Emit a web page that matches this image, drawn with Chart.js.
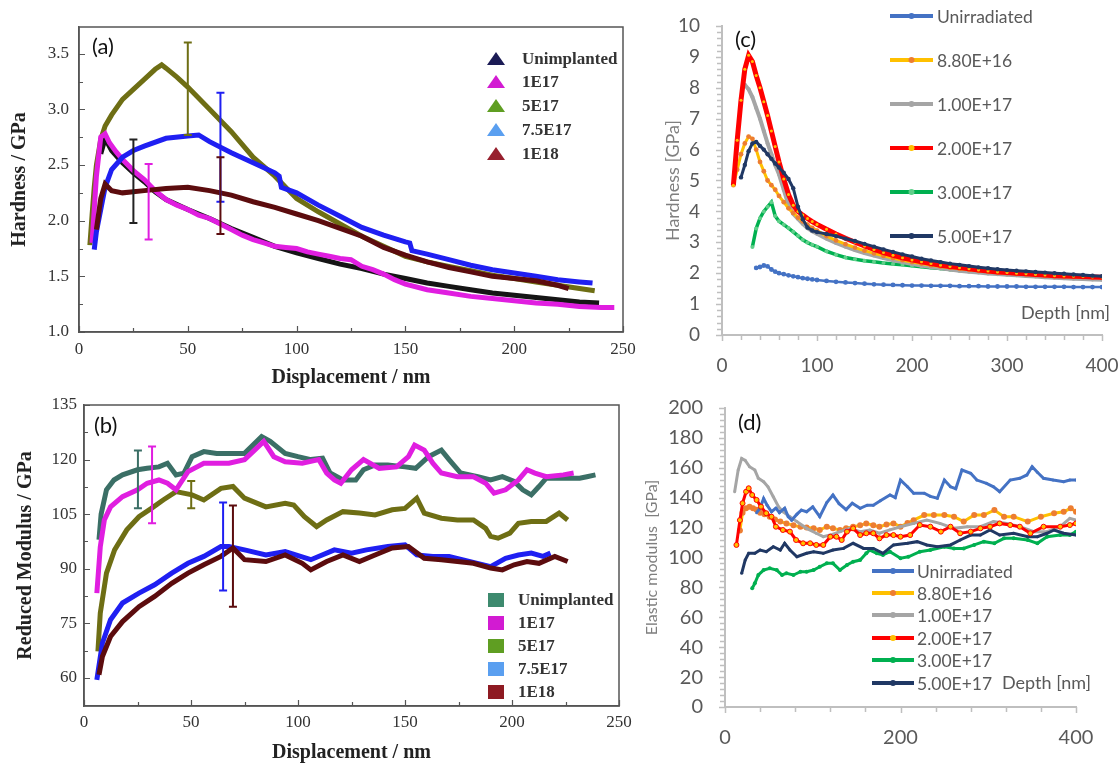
<!DOCTYPE html>
<html lang="en">
<head>
<meta charset="utf-8">
<title>Hardness and modulus vs depth</title>
<script src="https://cdn.jsdelivr.net/npm/chart.js@4.4.1/dist/chart.umd.min.js"></script>
<style>
  html, body { margin: 0; padding: 0; background: #fff; }
  #page { position: relative; width: 1120px; height: 768px; overflow: hidden; background: #fff; }
  #page canvas { position: absolute; }
</style>
</head>
<body>
<div id="page">
  <canvas id="chartA" width="640" height="390" style="left:0;top:0"></canvas>
  <canvas id="chartB" width="640" height="378" style="left:0;top:390px"></canvas>
  <canvas id="chartC" width="480" height="390" style="left:640px;top:0"></canvas>
  <canvas id="chartD" width="480" height="378" style="left:640px;top:390px"></canvas>
</div>
<script>
/* ---------- (a) hardness vs displacement ---------- */
const seriesAB = ['Unimplanted', '1E17', '5E17', '7.5E17', '1E18'];
const ticksAB_x = [0, 50, 100, 150, 200, 250];
const ticksA_y = [1.0, 1.5, 2.0, 2.5, 3.0, 3.5];

const dispA_unimp = [10, 12, 15, 20, 25, 30, 35, 40, 50, 60, 70, 80, 90, 100, 110, 120, 130, 140, 150, 160, 170, 180, 190, 200, 210, 220, 230, 239];
const hardA_unimp = [2.6, 2.74, 2.63, 2.52, 2.43, 2.35, 2.26, 2.19, 2.1, 2.02, 1.93, 1.85, 1.77, 1.71, 1.66, 1.61, 1.57, 1.52, 1.48, 1.44, 1.41, 1.38, 1.35, 1.33, 1.31, 1.29, 1.27, 1.26];

const dispA_1e17 = [6, 8, 10, 12, 14, 17, 20, 25, 30, 35, 40, 45, 50, 55, 60, 65, 70, 75, 80, 85, 90, 95, 100, 105, 110, 115, 120, 125, 130, 135, 140, 145, 150, 160, 170, 180, 190, 200, 210, 220, 230, 240, 246];
const hardA_1e17 = [1.8, 2.4, 2.75, 2.78, 2.7, 2.62, 2.55, 2.45, 2.37, 2.27, 2.19, 2.14, 2.10, 2.05, 2.02, 1.97, 1.92, 1.87, 1.83, 1.80, 1.77, 1.76, 1.75, 1.72, 1.70, 1.68, 1.66, 1.65, 1.59, 1.56, 1.52, 1.47, 1.43, 1.38, 1.35, 1.32, 1.30, 1.28, 1.26, 1.25, 1.23, 1.22, 1.22];

const dispA_5e17 = [5, 6, 7, 8, 10, 12, 15, 20, 25, 30, 35, 38, 40, 45, 50, 60, 70, 80, 90, 100, 110, 120, 130, 140, 150, 160, 170, 180, 190, 200, 210, 220, 230, 237];
const hardA_5e17 = [1.78, 2.05, 2.3, 2.5, 2.73, 2.85, 2.95, 3.09, 3.18, 3.27, 3.36, 3.40, 3.37, 3.29, 3.2, 3.0, 2.8, 2.57, 2.4, 2.2, 2.08, 1.97, 1.86, 1.77, 1.68, 1.63, 1.59, 1.55, 1.51, 1.48, 1.45, 1.42, 1.39, 1.37];

const dispA_75e17 = [7, 8, 10, 12, 15, 20, 25, 30, 40, 50, 55, 60, 70, 80, 90, 92, 93, 100, 110, 120, 130, 140, 150, 152, 153, 160, 170, 180, 190, 200, 210, 220, 230, 236];
const hardA_75e17 = [1.74, 1.9, 2.1, 2.3, 2.46, 2.57, 2.63, 2.67, 2.74, 2.76, 2.77, 2.71, 2.61, 2.52, 2.43, 2.40, 2.30, 2.25, 2.14, 2.04, 1.94, 1.87, 1.81, 1.80, 1.73, 1.70, 1.65, 1.60, 1.56, 1.53, 1.50, 1.47, 1.45, 1.44];

const dispA_1e18 = [8, 10, 12, 15, 20, 30, 40, 50, 60, 65, 70, 80, 90, 100, 110, 120, 130, 140, 150, 160, 170, 180, 190, 200, 210, 220, 225];
const hardA_1e18 = [1.92, 2.2, 2.33, 2.27, 2.25, 2.27, 2.29, 2.30, 2.27, 2.25, 2.23, 2.17, 2.12, 2.06, 2.0, 1.93, 1.86, 1.76, 1.69, 1.63, 1.58, 1.54, 1.50, 1.48, 1.46, 1.42, 1.39];

// error bars: position, lower and upper end
const errA_x = [25, 32, 50, 65, 65];
const errA_lo = [1.98, 1.83, 2.77, 2.17, 1.88];
const errA_hi = [2.73, 2.51, 3.6, 3.15, 2.57];

/* ---------- (b) reduced modulus vs displacement ---------- */
const ticksB_y = [60, 75, 90, 105, 120, 135];

const dispB_unimp = [7, 8, 10.5, 14, 18, 25, 29.5, 35, 39, 43, 46.7, 50.5, 56, 62, 75, 83, 87, 94, 100, 106, 111.5, 115, 121, 127, 130.6, 136, 142, 150, 155, 161, 167, 170.6, 176, 184, 190, 195.5, 201, 205, 209, 212.6, 216, 224, 231.6, 235, 239];
const modB_unimp = [98, 105, 111.7, 114.4, 115.8, 117.2, 117.6, 118, 119, 115.8, 116.3, 120.8, 122.2, 121.7, 121.7, 126.3, 125, 121.7, 120.8, 120, 120.4, 116.3, 114.4, 114.4, 117.2, 118.5, 118.5, 118, 117.6, 120.8, 122.6, 120, 116.3, 115.3, 114.4, 115.3, 114, 111.7, 110.3, 112.6, 114.9, 114.9, 114.9, 115.3, 115.8];

const dispB_1e17 = [6, 7.6, 9.5, 12.4, 18, 25, 29.5, 35, 39, 43, 48.6, 56, 67.7, 75, 79, 84, 88.7, 94, 102, 109.7, 113.4, 117, 120, 125, 130.6, 138, 146, 151.6, 154.5, 159, 163, 167, 174.5, 182, 187.7, 191.6, 197, 203, 207, 210.7, 216, 224, 228.8];
const modB_1e17 = [83.3, 96, 103.4, 107, 109.8, 111.7, 113.5, 114.4, 113.5, 111.7, 116.7, 119, 119, 120, 122.2, 125, 120.8, 119.4, 119, 120, 116.3, 114.4, 113.5, 117.2, 120, 117.6, 118, 120.8, 124, 122.6, 119, 116.3, 115.3, 115.3, 113.5, 110.8, 111.7, 114.4, 117.2, 116.3, 115.3, 115.8, 116.3];

const dispB_5e17 = [6.5, 7.6, 10.5, 14.3, 20, 25.7, 31.5, 37, 43, 50.5, 56, 64, 69.6, 75, 85, 94, 98, 103, 108.7, 113.4, 121, 128.7, 136, 144, 150, 155.5, 159, 167, 174.5, 182, 187.7, 190, 193.5, 199, 203, 209, 216, 222, 226];
const modB_5e17 = [67.3, 77.8, 88.8, 95.2, 100.7, 104.3, 106.6, 108.9, 111.2, 110.3, 108.9, 112.1, 112.6, 109.4, 107, 108, 107.5, 104.3, 101.6, 103.4, 105.7, 105.3, 104.8, 106.2, 106.6, 109.4, 105.3, 103.9, 103.4, 103.4, 101.1, 98.9, 98.4, 99.8, 102.5, 103, 103, 105.3, 103.4];

const dispB_75e17 = [6, 8.6, 12.4, 18, 25.7, 33, 41, 48.6, 56, 64, 67.7, 75, 85, 94, 106, 117, 125, 132, 142, 150, 155.5, 163, 170.6, 180, 190, 197, 203, 209, 214.5, 218];
const modB_75e17 = [59.5, 69.6, 76, 80.6, 83.3, 85.6, 88.8, 91.5, 93.4, 96.1, 96.1, 95.2, 93.8, 94.7, 92.5, 95.2, 94.3, 95.2, 96.1, 96.6, 93.8, 93.4, 93.4, 92, 90.6, 92.9, 93.8, 94.3, 93.4, 94.3];

const dispB_1e18 = [7, 8.6, 12.4, 18, 25.7, 33, 41, 48.6, 56, 64, 69.6, 75, 85, 94, 102, 106, 113.4, 121, 128.7, 136, 144, 151.6, 159, 167, 174.5, 182, 190, 195.5, 201, 207, 212.6, 220, 226];
const modB_1e18 = [60.9, 65.9, 71.4, 75.5, 79.6, 82.4, 86, 88.8, 91.1, 93.4, 95.7, 92.5, 92, 93.8, 91.5, 89.7, 92, 93.8, 92, 93.8, 95.7, 96.1, 92.9, 92.5, 92, 91.5, 90.2, 89.7, 91.1, 92, 91.5, 93.4, 92];

const errB_x = [25.2, 31.8, 50.1, 65, 69.6];
const errB_lo = [106.6, 102.5, 106.6, 84, 79.6];
const errB_hi = [122.5, 123.6, 114.1, 108.2, 107.4];

/* ---------- (c) hardness vs depth, irradiated samples ---------- */
const seriesCD = ['Unirradiated', '8.80E+16', '1.00E+17', '2.00E+17', '3.00E+17', '5.00E+17'];
const ticksC_x = [0, 100, 200, 300, 400];
const ticksC_y = [0, 1, 2, 3, 4, 5, 6, 7, 8, 9, 10];

const depthC = [12, 16, 20, 24, 28, 32, 36, 40, 44, 48, 52, 56, 60, 65, 70, 75, 80, 85, 90, 95, 100,
  110, 120, 130, 140, 150, 160, 170, 180, 190, 200, 210, 220, 230, 240, 250, 260, 270, 280, 290, 300,
  310, 320, 330, 340, 350, 360, 370, 380, 390, 400];
const hardC_unirr = [null, null, null, null, null, null, 2.17, 2.2, 2.25, 2.22, 2.12, 2.05, 2.0, 1.97, 1.93, 1.9, 1.87, 1.84, 1.82, 1.8, 1.78,
  1.75, 1.72, 1.7, 1.68, 1.66, 1.64, 1.63, 1.62, 1.61, 1.6, 1.6, 1.59, 1.59, 1.59, 1.58, 1.58, 1.58, 1.57, 1.57, 1.57,
  1.57, 1.56, 1.56, 1.56, 1.56, 1.56, 1.55, 1.55, 1.55, 1.55];
const hardC_88e16 = [4.85, 5.35, 5.85, 6.2, 6.42, 6.35, 6.0, 5.6, 5.3, 5.0, 4.85, 4.7, 4.5, 4.3, 4.1, 3.95, 3.8, 3.68, 3.57, 3.47, 3.38,
  3.2, 3.06, 2.94, 2.83, 2.73, 2.64, 2.56, 2.49, 2.42, 2.36, 2.31, 2.26, 2.22, 2.18, 2.14, 2.11, 2.08, 2.05, 2.02, 2.0,
  1.98, 1.96, 1.94, 1.92, 1.9, 1.89, 1.88, 1.87, 1.86, 1.85];
const hardC_1e17 = [null, null, null, 8.1, 7.95, 7.7, 7.35, 7.0, 6.6, 6.2, 5.85, 5.5, 5.2, 4.7, 4.2, 3.92, 3.76, 3.6, 3.46, 3.36, 3.28,
  3.12, 2.98, 2.86, 2.75, 2.65, 2.57, 2.49, 2.42, 2.36, 2.3, 2.25, 2.2, 2.16, 2.12, 2.08, 2.05, 2.02, 1.99, 1.97, 1.95,
  1.93, 1.91, 1.89, 1.87, 1.85, 1.84, 1.82, 1.81, 1.8, 1.79];
const hardC_2e17 = [4.85, 6.3, 7.6, 8.6, 9.05, 8.85, 8.4, 8.0, 7.55, 7.1, 6.6, 6.1, 5.6, 5.05, 4.55, 4.2, 4.0, 3.88, 3.77, 3.67, 3.58,
  3.42, 3.27, 3.13, 3.0, 2.88, 2.77, 2.67, 2.58, 2.5, 2.43, 2.37, 2.31, 2.26, 2.22, 2.18, 2.14, 2.1, 2.07, 2.04, 2.02,
  2.0, 1.98, 1.96, 1.94, 1.92, 1.91, 1.9, 1.89, 1.88, 1.87];
const hardC_3e17 = [null, null, null, null, null, 2.85, 3.45, 3.78, 4.0, 4.15, 4.3, 3.85, 3.68, 3.57, 3.46, 3.34, 3.21, 3.08, 2.99, 2.92, 2.86,
  2.71, 2.6, 2.51, 2.45, 2.4, 2.37, 2.33, 2.3, 2.27, 2.24, 2.21, 2.18, 2.15, 2.12, 2.09, 2.07, 2.05, 2.03, 2.01, 1.99,
  1.97, 1.95, 1.93, 1.92, 1.9, 1.89, 1.88, 1.87, 1.86, 1.85];
const hardC_5e17 = [null, null, 5.1, 5.5, 5.95, 6.2, 6.25, 6.12, 6.0, 5.85, 5.7, 5.55, 5.42, 5.25, 5.05, 4.75, 4.15, 3.75, 3.48, 3.38, 3.33,
  3.27, 3.2, 3.12, 3.04, 2.95, 2.86, 2.77, 2.69, 2.61, 2.54, 2.47, 2.41, 2.36, 2.31, 2.27, 2.23, 2.19, 2.16, 2.13, 2.1,
  2.08, 2.06, 2.04, 2.02, 2.0, 1.98, 1.96, 1.94, 1.92, 1.9];

/* ---------- (d) elastic modulus vs depth ---------- */
const ticksD_x = [0, 200, 400];
const ticksD_y = [0, 20, 40, 60, 80, 100, 120, 140, 160, 180, 200];

const depthD_unirr = [36, 40, 44, 48, 53, 58, 62, 68, 72, 76, 82, 87, 93, 100, 108, 116, 123, 130, 138, 145, 154, 162, 169, 177, 188, 194, 200, 208, 215, 227, 234, 242, 250, 257, 263, 270, 280, 287, 298, 306, 313, 325, 336, 344, 350, 356, 363, 374, 386, 393, 400];
const modD_unirr = [130, 133, 139.5, 135, 130.6, 133, 130, 133, 127.3, 125, 129, 131.7, 130.6, 133.9, 127.3, 136.8, 141.8, 136, 132, 136.3, 132.9, 135, 135, 138, 141.8, 140, 151.8, 147.3, 143, 143, 140.9, 139.6, 151.8, 147.3, 146, 158.5, 156.3, 151.8, 149.6, 147.3, 144, 151.8, 153, 155.2, 160.7, 157, 153, 151.8, 150.7, 151.8, 151.8];

const depthD_88e16 = [17, 20, 24, 28, 32, 36, 40, 45, 51, 57, 63, 70, 78, 86, 93, 101, 108, 116, 123, 131, 138, 146, 154, 161, 169, 176, 184, 192, 200, 208, 215, 227, 238, 250, 261, 272, 284, 295, 307, 318, 329, 345, 360, 375, 386, 394, 400];
const modD_88e16 = [118, 130, 133, 134, 133, 132, 130, 129, 127.3, 125.5, 124, 122.8, 121.5, 120.6, 120, 119.5, 118.4, 120.6, 119.5, 118.4, 119.5, 120.6, 121.5, 122.8, 121.5, 120.6, 122, 122.8, 120.6, 123, 125, 128.4, 128.4, 128.4, 127.3, 124, 128.4, 128.4, 131.7, 127.3, 127.3, 124, 127.3, 129.6, 130.6, 132.9, 130.6];

const depthD_1e17 = [11, 15, 19, 23, 28, 34, 38, 44, 49, 55, 61, 66, 74, 82, 93, 104, 112, 120, 131, 142, 154, 165, 176, 188, 200, 215, 230, 245, 261, 276, 291, 306, 321, 336, 352, 367, 382, 393, 400];
const modD_1e17 = [144, 158.5, 166.3, 165, 160.7, 158.5, 153, 150.7, 147.3, 140.6, 134, 130.6, 127.3, 124, 119.5, 116.2, 113.9, 115, 117.3, 119.5, 117.3, 118.4, 116.2, 118.5, 120.6, 122.8, 125, 122.8, 119.5, 120.6, 120.6, 124, 122.8, 120.6, 117.3, 117.3, 120.6, 126.2, 125];

const depthD_2e17 = [13, 17, 20, 24, 27, 31, 36, 41, 47, 53, 58, 66, 74, 81, 89, 97, 104, 112, 120, 127, 133, 139, 146, 154, 161, 169, 176, 184, 192, 200, 211, 222, 234, 246, 257, 268, 280, 291, 302, 313, 325, 336, 348, 363, 382, 393, 400];
const modD_2e17 = [108.4, 125, 136.3, 144, 146.3, 141.8, 138.5, 134, 129.6, 127.3, 120.6, 118.4, 117.3, 111.7, 109.5, 109.5, 108.4, 108.4, 113.9, 113.9, 111.7, 117.3, 119.5, 115, 116.2, 116.2, 112.8, 115, 115, 113.9, 115, 121.7, 120.6, 117.3, 120.6, 116.2, 117.3, 119.5, 120.6, 122.8, 121.7, 120.6, 116.2, 120.6, 120.6, 121.7, 122.8];

const depthD_3e17 = [31, 34, 38, 44, 51, 59, 65, 70, 78, 86, 93, 101, 108, 116, 123, 131, 139, 146, 154, 161, 165, 173, 180, 188, 200, 209, 222, 234, 250, 261, 272, 284, 295, 307, 318, 329, 345, 356, 367, 382, 393, 400];
const modD_3e17 = [79.4, 82.7, 88.3, 91.6, 92.8, 91.6, 88.3, 89.4, 88.3, 90.5, 90.5, 91.6, 93.8, 96.1, 96.1, 91.6, 95, 97.2, 98.3, 102.8, 105, 102.8, 101.7, 103.9, 99.5, 100.5, 103.9, 105, 107.2, 106.1, 106.1, 108.4, 110.6, 109.5, 112.8, 112.8, 111.7, 109.5, 113.9, 115, 115, 117.3];

const depthD_5e17 = [19, 23, 27, 34, 40, 47, 55, 63, 68, 74, 82, 93, 101, 112, 123, 135, 146, 158, 169, 180, 192, 208, 219, 230, 242, 257, 268, 280, 291, 302, 313, 329, 345, 356, 367, 375, 386, 400];
const modD_5e17 = [89.4, 98.3, 102.8, 102.8, 105, 103.9, 107.2, 105, 109.5, 105, 100.5, 102.8, 103.9, 102.8, 105, 106.1, 109.5, 106.1, 106.1, 102.8, 108.4, 109.5, 110.6, 108.4, 107.2, 108.4, 111.7, 115, 115, 118.4, 115, 116.2, 113.9, 113.9, 116.2, 118.4, 116.2, 115];

/* ---------- shared helpers ---------- */
const SERIF = '"Liberation Serif", "Times New Roman", serif';
const SANS = 'Lato, "Open Sans", sans-serif';

const pts = (xs, ys) => xs.map((x, i) => ({ x, y: ys[i] })).filter(p => p.y !== null);
const fixTicks = list => scale => { scale.ticks = list.map(value => ({ value })); };

// tick marks along the bottom and left axes (inward for a/b, outward for c/d)
const tickMarks = {
  id: 'tickMarks',
  afterDraw(chart, args, o) {
    const { ctx, chartArea: a } = chart;
    const x = chart.scales.x, y = chart.scales.y;
    const dir = o.inward ? -1 : 1;
    const isMajor = (v, step) => Math.abs(v / step - Math.round(v / step)) < 1e-6;
    ctx.save();
    ctx.strokeStyle = o.color;
    ctx.lineWidth = o.width;
    ctx.beginPath();
    for (let v = o.xFrom; v <= x.max + 1e-6; v += o.xMinor) {
      const px = Math.round(x.getPixelForValue(v)) + 0.5;
      const len = isMajor(v - o.xFrom, o.xMajor) ? o.majorLen : o.minorLen;
      ctx.moveTo(px, a.bottom);
      ctx.lineTo(px, a.bottom + dir * len);
    }
    for (let v = o.yFrom; v <= y.max + 1e-6; v += o.yMinor) {
      const py = Math.round(y.getPixelForValue(v)) + 0.5;
      const len = isMajor(v - o.yFrom, o.yMajor) ? o.majorLen : o.minorLen;
      ctx.moveTo(a.left, py);
      ctx.lineTo(a.left - dir * len, py);
    }
    ctx.stroke();
    ctx.restore();
  }
};

// closed frame round the plot area
const frameBox = {
  id: 'frameBox',
  afterDraw(chart, args, o) {
    if (!o.color) return;
    const { ctx, chartArea: a } = chart;
    ctx.save();
    ctx.strokeStyle = o.color;
    ctx.lineWidth = o.width;
    ctx.strokeRect(a.left, a.top, a.right - a.left, a.bottom - a.top);
    ctx.restore();
  }
};

// vertical error bars with caps
const errorBars = {
  id: 'errorBars',
  afterDatasetsDraw(chart, args, o) {
    if (!o.xs) return;
    const { ctx } = chart;
    const x = chart.scales.x, y = chart.scales.y;
    ctx.save();
    ctx.lineWidth = 2;
    o.xs.forEach((xv, i) => {
      const px = x.getPixelForValue(xv);
      const top = y.getPixelForValue(o.hi[i]);
      const bot = y.getPixelForValue(o.lo[i]);
      ctx.strokeStyle = o.colors[i];
      ctx.beginPath();
      ctx.moveTo(px, top); ctx.lineTo(px, bot);
      ctx.moveTo(px - o.cap, top); ctx.lineTo(px + o.cap, top);
      ctx.moveTo(px - o.cap, bot); ctx.lineTo(px + o.cap, bot);
      ctx.stroke();
    });
    ctx.restore();
  }
};

// hand-placed legend: triangles, squares or line+marker keys
const keyBox = {
  id: 'keyBox',
  afterDraw(chart, args, o) {
    if (!o.labels) return;
    const { ctx } = chart;
    ctx.save();
    ctx.font = o.font;
    ctx.textBaseline = 'middle';
    o.labels.forEach((label, i) => {
      const cy = o.rows[i];
      const col = o.colors[i];
      if (o.symbol === 'triangle') {
        ctx.fillStyle = col;
        ctx.beginPath();
        ctx.moveTo(o.keyX, cy - 7);
        ctx.lineTo(o.keyX + 9, cy + 6);
        ctx.lineTo(o.keyX - 9, cy + 6);
        ctx.closePath();
        ctx.fill();
      } else if (o.symbol === 'square') {
        ctx.fillStyle = col;
        ctx.fillRect(o.keyX - 8, cy - 7, 16, 14);
      } else {
        ctx.strokeStyle = col;
        ctx.lineWidth = 4;
        ctx.beginPath();
        ctx.moveTo(o.keyX, cy);
        ctx.lineTo(o.keyX + o.keyLen, cy);
        ctx.stroke();
        ctx.fillStyle = o.dots[i];
        ctx.beginPath();
        ctx.arc(o.keyX + o.keyLen / 2, cy, 3, 0, Math.PI * 2);
        ctx.fill();
      }
      ctx.fillStyle = o.textColor;
      ctx.fillText(label, o.textX, cy + 1);
    });
    ctx.restore();
  }
};

// free text: panel letters and the in-plot depth caption
const notes = {
  id: 'notes',
  afterDraw(chart, args, o) {
    if (!o.items) return;
    const { ctx } = chart;
    ctx.save();
    ctx.textBaseline = 'middle';
    o.items.forEach(t => {
      ctx.font = t.font;
      ctx.fillStyle = t.color;
      ctx.textAlign = t.align || 'left';
      ctx.fillText(t.text, t.x, t.y);
    });
    ctx.restore();
  }
};

Chart.register(tickMarks, frameBox, errorBars, keyBox, notes);

// label gap comes from tickLength (grid hidden), so it does not feed the layout padding
function xScale(cfg) {
  return {
    type: 'linear', min: cfg.min, max: cfg.max,
    afterBuildTicks: fixTicks(cfg.ticks),
    afterFit: s => { s.height = cfg.height; },
    grid: { display: false, drawTicks: true, tickLength: cfg.labelGap },
    border: { display: true, color: cfg.axisColor, width: cfg.axisWidth },
    ticks: { color: cfg.labelColor, font: cfg.labelFont, padding: 0, maxRotation: 0, autoSkip: false },
    title: cfg.title ? { display: true, text: cfg.title, color: cfg.titleColor, font: cfg.titleFont, padding: { top: 0, bottom: cfg.titlePad } } : { display: false }
  };
}

function yScale(cfg) {
  return {
    type: 'linear', min: cfg.min, max: cfg.max,
    afterBuildTicks: fixTicks(cfg.ticks),
    afterFit: s => { s.width = cfg.width; },
    grid: { display: false, drawTicks: true, tickLength: cfg.labelGap },
    border: { display: true, color: cfg.axisColor, width: cfg.axisWidth },
    ticks: { color: cfg.labelColor, font: cfg.labelFont, padding: 0, autoSkip: false, callback: cfg.format || (v => String(v)) },
    title: { display: true, text: cfg.title, color: cfg.titleColor, font: cfg.titleFont, padding: { top: cfg.titlePad, bottom: 0 } }
  };
}

function baseOptions(padding, scales, plugins) {
  return {
    responsive: false, animation: false, devicePixelRatio: 1,
    layout: { padding },
    scales,
    plugins: Object.assign({ legend: { display: false }, tooltip: { enabled: false } }, plugins)
  };
}

/* ---------- panel (a) ---------- */
const lineColorsA = ['#151515', '#e01ee0', '#6e6e14', '#1f1ff2', '#5c0c0e'];
const keyColorsA = ['#1b1b55', '#d21bd2', '#5f9e22', '#5a9ff0', '#97202e'];
const thickLine = (label, data, color) => ({ label, data, borderColor: color, backgroundColor: color, borderWidth: 5, pointRadius: 0, tension: 0 });

new Chart(document.getElementById('chartA'), {
  type: 'line',
  data: {
    datasets: [
      thickLine(seriesAB[4], pts(dispA_1e18, hardA_1e18), lineColorsA[4]),
      thickLine(seriesAB[3], pts(dispA_75e17, hardA_75e17), lineColorsA[3]),
      thickLine(seriesAB[1], pts(dispA_1e17, hardA_1e17), lineColorsA[1]),
      thickLine(seriesAB[0], pts(dispA_unimp, hardA_unimp), lineColorsA[0]),
      thickLine(seriesAB[2], pts(dispA_5e17, hardA_5e17), lineColorsA[2])
    ]
  },
  options: baseOptions({ left: 0, right: 17, top: 27, bottom: 0 }, {
    x: xScale({ min: 0, max: 250, ticks: ticksAB_x, height: 58, axisColor: '#555', axisWidth: 1.5,
      labelColor: '#333', labelFont: { family: SERIF, size: 17 }, labelGap: 7,
      title: 'Displacement / nm', titleColor: '#222', titleFont: { family: SERIF, size: 20, weight: 'bold' }, titlePad: 0 }),
    y: yScale({ min: 1.0, max: 3.74, ticks: ticksA_y, width: 79, axisColor: '#555', axisWidth: 1.5,
      labelColor: '#333', labelFont: { family: SERIF, size: 17 }, labelGap: 10, format: v => v.toFixed(1),
      title: 'Hardness / GPa', titleColor: '#222', titleFont: { family: SERIF, size: 20, weight: 'bold' }, titlePad: 8 })
  }, {
    tickMarks: { inward: true, color: '#555', width: 1.2, xFrom: 0, xMinor: 25, xMajor: 50, yFrom: 1.0, yMinor: 0.25, yMajor: 0.5, majorLen: 6, minorLen: 4 },
    frameBox: { color: '#555', width: 1.5 },
    errorBars: { xs: errA_x, lo: errA_lo, hi: errA_hi, colors: ['#222', lineColorsA[1], lineColorsA[2], lineColorsA[3], lineColorsA[4]], cap: 4 },
    keyBox: { labels: seriesAB, colors: keyColorsA, symbol: 'triangle', keyX: 496, textX: 522, rows: [59, 82, 106, 130, 154],
      font: 'bold 17px ' + SERIF, textColor: '#333' },
    notes: { items: [{ text: '(a)', x: 92, y: 47, font: '22px ' + SANS, color: '#111' }] }
  })
});

/* ---------- panel (b) ---------- */
const lineColorsB = ['#3b6f66', '#e01ee0', '#6e6e14', '#1f1ff2', '#5c0c0e'];
const keyColorsB = ['#3d8a6e', '#d21bd2', '#5f9e22', '#5a9ff0', '#8e1a22'];

new Chart(document.getElementById('chartB'), {
  type: 'line',
  data: {
    datasets: [
      thickLine(seriesAB[4], pts(dispB_1e18, modB_1e18), lineColorsB[4]),
      thickLine(seriesAB[3], pts(dispB_75e17, modB_75e17), lineColorsB[3]),
      thickLine(seriesAB[1], pts(dispB_1e17, modB_1e17), lineColorsB[1]),
      thickLine(seriesAB[0], pts(dispB_unimp, modB_unimp), lineColorsB[0]),
      thickLine(seriesAB[2], pts(dispB_5e17, modB_5e17), lineColorsB[2])
    ]
  },
  options: baseOptions({ left: 0, right: 21, top: 15, bottom: 0 }, {
    x: xScale({ min: 0, max: 250, ticks: ticksAB_x, height: 62, axisColor: '#555', axisWidth: 1.5,
      labelColor: '#333', labelFont: { family: SERIF, size: 17 }, labelGap: 6,
      title: 'Displacement / nm', titleColor: '#222', titleFont: { family: SERIF, size: 20, weight: 'bold' }, titlePad: 3 }),
    y: yScale({ min: 52.3, max: 135, ticks: ticksB_y, width: 84, axisColor: '#555', axisWidth: 1.5,
      labelColor: '#333', labelFont: { family: SERIF, size: 17 }, labelGap: 7,
      title: 'Reduced Modulus / GPa', titleColor: '#222', titleFont: { family: SERIF, size: 20, weight: 'bold' }, titlePad: 14 })
  }, {
    tickMarks: { inward: true, color: '#555', width: 1.2, xFrom: 0, xMinor: 25, xMajor: 50, yFrom: 60, yMinor: 7.5, yMajor: 15, majorLen: 6, minorLen: 4 },
    frameBox: { color: '#555', width: 1.5 },
    errorBars: { xs: errB_x, lo: errB_lo, hi: errB_hi, colors: lineColorsB, cap: 4 },
    keyBox: { labels: seriesAB, colors: keyColorsB, symbol: 'square', keyX: 496, textX: 518, rows: [210, 233, 256, 279, 302],
      font: 'bold 17px ' + SERIF, textColor: '#333' },
    notes: { items: [{ text: '(b)', x: 94, y: 36, font: '22px ' + SANS, color: '#111' }] }
  })
});

/* ---------- panel (c) ---------- */
const styleC = [
  { line: '#4472c4', dot: '#4472c4', width: 2.5, r: 2.4, order: 6 },
  { line: '#ffc000', dot: '#ed7d31', width: 3, r: 2.4, order: 3 },
  { line: '#a5a5a5', dot: '#a5a5a5', width: 4, r: 2, order: 4 },
  { line: '#ff0000', dot: '#ffc000', width: 5, r: 1.5, order: 2 },
  { line: '#00b050', dot: '#5fd08a', width: 3.5, r: 2, order: 5 },
  { line: '#203864', dot: '#203864', width: 3, r: 2.2, order: 1 }
];
const valuesC = [hardC_unirr, hardC_88e16, hardC_1e17, hardC_2e17, hardC_3e17, hardC_5e17];

const markedLine = (label, data, s) => ({
  label, data, order: s.order,
  borderColor: s.line, borderWidth: s.width, tension: 0,
  pointRadius: s.r, pointBackgroundColor: s.dot, pointBorderColor: s.ring || s.dot, pointBorderWidth: s.ring ? 1 : 0
});

new Chart(document.getElementById('chartC'), {
  type: 'line',
  data: { datasets: valuesC.map((vals, i) => markedLine(seriesCD[i], pts(depthC, vals), styleC[i])) },
  options: baseOptions({ left: 0, right: 18, top: 26, bottom: 0 }, {
    x: xScale({ min: 0, max: 400, ticks: ticksC_x, height: 55, axisColor: '#bfbfbf', axisWidth: 2,
      labelColor: '#595959', labelFont: { family: SANS, size: 19 }, labelGap: 19 }),
    y: yScale({ min: 0, max: 10, ticks: ticksC_y, width: 82, axisColor: '#bfbfbf', axisWidth: 2,
      labelColor: '#595959', labelFont: { family: SANS, size: 19 }, labelGap: 22,
      title: 'Hardness [GPa]', titleColor: '#7f7f7f', titleFont: { family: SANS, size: 18 }, titlePad: 22 })
  }, {
    tickMarks: { inward: false, color: '#bfbfbf', width: 1.5, xFrom: 0, xMinor: 20, xMajor: 100, yFrom: 0, yMinor: 0.2, yMajor: 1, majorLen: 6, minorLen: 5 },
    keyBox: { labels: seriesCD, colors: styleC.map(s => s.line), dots: styleC.map(s => s.dot), symbol: 'line',
      keyX: 250, keyLen: 43, textX: 297, rows: [16, 60, 104, 148, 192, 236], font: '17.5px ' + SANS, textColor: '#595959' },
    notes: { items: [
      { text: '(c)', x: 95, y: 40, font: '22px ' + SANS, color: '#111' },
      { text: 'Depth [nm]', x: 470, y: 313, font: '18px ' + SANS, color: '#595959', align: 'right' }
    ] }
  })
});

/* ---------- panel (d) ---------- */
const styleD = [
  { line: '#4472c4', dot: '#4472c4', width: 3, r: 1.5, order: 3 },
  { line: '#ffc000', dot: '#ed7d31', width: 3, r: 3, order: 6 },
  { line: '#a5a5a5', dot: '#a5a5a5', width: 3, r: 1.5, order: 5 },
  { line: '#ff0000', dot: '#ffc000', ring: '#ff0000', width: 3, r: 2.5, order: 1 },
  { line: '#00b050', dot: '#00b050', width: 3, r: 2, order: 4 },
  { line: '#203864', dot: '#203864', width: 3, r: 1.5, order: 2 }
];
const depthsD = [depthD_unirr, depthD_88e16, depthD_1e17, depthD_2e17, depthD_3e17, depthD_5e17];
const valuesD = [modD_unirr, modD_88e16, modD_1e17, modD_2e17, modD_3e17, modD_5e17];

new Chart(document.getElementById('chartD'), {
  type: 'line',
  data: { datasets: valuesD.map((vals, i) => markedLine(seriesCD[i], pts(depthsD[i], vals), styleD[i])) },
  options: baseOptions({ left: 0, right: 44, top: 18, bottom: 0 }, {
    x: xScale({ min: 0, max: 400, ticks: ticksD_x, height: 61, axisColor: '#bfbfbf', axisWidth: 2,
      labelColor: '#595959', labelFont: { family: SANS, size: 20 }, labelGap: 19 }),
    y: yScale({ min: 0, max: 200, ticks: ticksD_y, width: 85, axisColor: '#bfbfbf', axisWidth: 2,
      labelColor: '#595959', labelFont: { family: SANS, size: 20 }, labelGap: 22,
      title: 'Elastic modulus  [GPa]', titleColor: '#7f7f7f', titleFont: { family: SANS, size: 16 }, titlePad: 2 })
  }, {
    tickMarks: { inward: false, color: '#bfbfbf', width: 1.5, xFrom: 0, xMinor: 40, xMajor: 200, yFrom: 0, yMinor: 4, yMajor: 20, majorLen: 6, minorLen: 5 },
    keyBox: { labels: seriesCD, colors: styleD.map(s => s.line), dots: styleD.map(s => s.dot), symbol: 'line',
      keyX: 232, keyLen: 42, textX: 277, rows: [181, 203, 225, 248, 270, 293], font: '17.5px ' + SANS, textColor: '#595959' },
    notes: { items: [
      { text: '(d)', x: 98, y: 33, font: '22px ' + SANS, color: '#111' },
      { text: 'Depth [nm]', x: 362, y: 293, font: '18px ' + SANS, color: '#595959' }
    ] }
  })
});
</script>
</body>
</html>
